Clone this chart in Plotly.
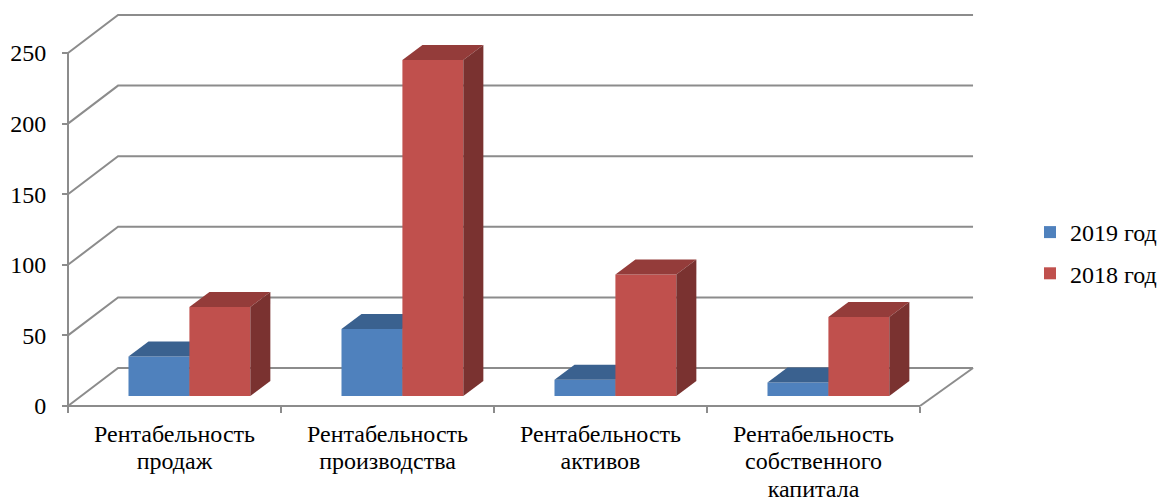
import plotly.graph_objects as go

# Profitability indicators by year
categories = [
    ["Рентабельность", "продаж"],
    ["Рентабельность", "производства"],
    ["Рентабельность", "активов"],
    ["Рентабельность", "собственного", "капитала"],
]
series_2019 = [28, 47.5, 11.5, 9.5]
series_2018 = [63, 238, 86, 56]
y_ticks = [0, 50, 100, 150, 200, 250]

FONT = "Liberation Serif"
INK = "#000000"
AXIS_GREY = "#8c8c8c"

W, H = 1159, 501
ORIGIN_X, ORIGIN_Y = 68, 406        # where the two axes meet
X_UNIT = 213                        # px per category slot
Y_UNIT = 353 / 250                  # px per value unit

# Oblique projection of the depth direction, in axis units
WALL_DX, WALL_DY = 0.235, 26.9      # floor depth
WALL_END = 4.249                    # right end of the back wall
BAR_DX, BAR_DY = 0.094, 10.6        # bar depth
BAR_W = 0.286
BAR_BASE = 7.1                      # bars stand inside the floor
BAR_SHIFT = 0.57                    # offset of the group centre from its slot start

x_range = [-ORIGIN_X / X_UNIT, (W - ORIGIN_X) / X_UNIT]
y_range = [-(H - ORIGIN_Y) / Y_UNIT, ORIGIN_Y / Y_UNIT]


def polygon_trace(xs, ys, color, axes):
    return go.Scatter(
        x=xs, y=ys, mode="lines", fill="toself", fillcolor=color,
        line=dict(width=0), hoverinfo="skip", showlegend=False,
        xaxis=axes[0], yaxis=axes[1],
    )


def add_series(fig, values, name, left_shift, front, top, side, axes, group):
    lefts = [i + BAR_SHIFT + left_shift for i in range(len(values))]
    fig.add_trace(go.Bar(
        x=[x + BAR_W / 2 for x in lefts], y=values, base=BAR_BASE, width=BAR_W,
        marker=dict(color=front, line=dict(width=0)), name=name,
        legendgroup=group, xaxis=axes[0], yaxis=axes[1],
    ))
    for x, v in zip(lefts, values):
        t = BAR_BASE + v
        fig.add_trace(polygon_trace(
            [x, x + BAR_W, x + BAR_W + BAR_DX, x + BAR_DX, x],
            [t, t, t + BAR_DY, t + BAR_DY, t], top, axes))
        fig.add_trace(polygon_trace(
            [x + BAR_W, x + BAR_W + BAR_DX, x + BAR_W + BAR_DX, x + BAR_W, x + BAR_W],
            [BAR_BASE, BAR_BASE + BAR_DY, t + BAR_DY, t, BAR_BASE], side, axes))


fig = go.Figure()

# Axis lines, side wall, back wall and floor sit on the base axes, under the bars
wall_x, wall_y = [0, 0, None, 0, 4, None], [0, y_ticks[-1], None, 0, 0, None]
for v in y_ticks:
    wall_x += [0, WALL_DX, WALL_END, None]
    wall_y += [v, v + WALL_DY, v + WALL_DY, None]
wall_x += [WALL_END, 4]
wall_y += [WALL_DY, 0]
fig.add_trace(go.Scatter(
    x=wall_x, y=wall_y, mode="lines", line=dict(color=AXIS_GREY, width=2),
    hoverinfo="skip", showlegend=False,
))

# Each series lives on its own overlay so the 2018 bars cover the 2019 ones
add_series(fig, series_2019, "2019 год", -BAR_W, "#4f81bd", "#3a618f", "#345578", ("x2", "y2"), "a")
add_series(fig, series_2018, "2018 год", 0, "#c0504d", "#943c3a", "#7a3230", ("x3", "y3"), "b")

tick_labels = [
    "<br>".join(f'<span style="font-size:24px">{line}</span>' for line in lines)
    for lines in categories
]

hidden_x = dict(visible=False, fixedrange=True, range=x_range, overlaying="x")
hidden_y = dict(visible=False, fixedrange=True, range=y_range, overlaying="y")
fig.update_layout(
    width=W, height=H,
    margin=dict(l=0, r=0, t=0, b=0, autoexpand=False),
    paper_bgcolor="white", plot_bgcolor="white",
    barmode="overlay",
    font=dict(family=FONT, size=24, color=INK),
    xaxis=dict(
        range=x_range, domain=[0, 1], anchor="free", position=(H - ORIGIN_Y) / H,
        tickmode="array", tickvals=[0.5, 1.5, 2.5, 3.5], ticktext=tick_labels,
        tickfont=dict(family=FONT, size=21, color=INK), tickangle=0,
        ticks="", ticklabelstandoff=14,
        minor=dict(tickmode="array", tickvals=[0, 1, 2, 3, 4], ticks="outside",
                   ticklen=6, tickwidth=2, tickcolor=AXIS_GREY, showgrid=False),
        showgrid=False, zeroline=False, showline=False,
    ),
    yaxis=dict(
        range=y_range, domain=[0, 1], anchor="free", position=ORIGIN_X / W,
        tickmode="array", tickvals=y_ticks,
        ticks="outside", ticklen=6, tickwidth=2, tickcolor=AXIS_GREY,
        tickfont=dict(family=FONT, size=24, color=INK), ticklabelstandoff=11,
        showgrid=False, zeroline=False, showline=False,
    ),
    xaxis2=hidden_x, yaxis2=hidden_y,
    xaxis3=hidden_x, yaxis3=hidden_y,
    legend=dict(
        x=1030 / W, xanchor="left", y=1 - 253 / H, yanchor="middle",
        font=dict(family=FONT, size=24, color=INK), tracegroupgap=7,
        bgcolor="rgba(0,0,0,0)", itemclick=False, itemdoubleclick=False,
    ),
    showlegend=True,
)

fig.write_html("out.html", config={"displayModeBar": False})
